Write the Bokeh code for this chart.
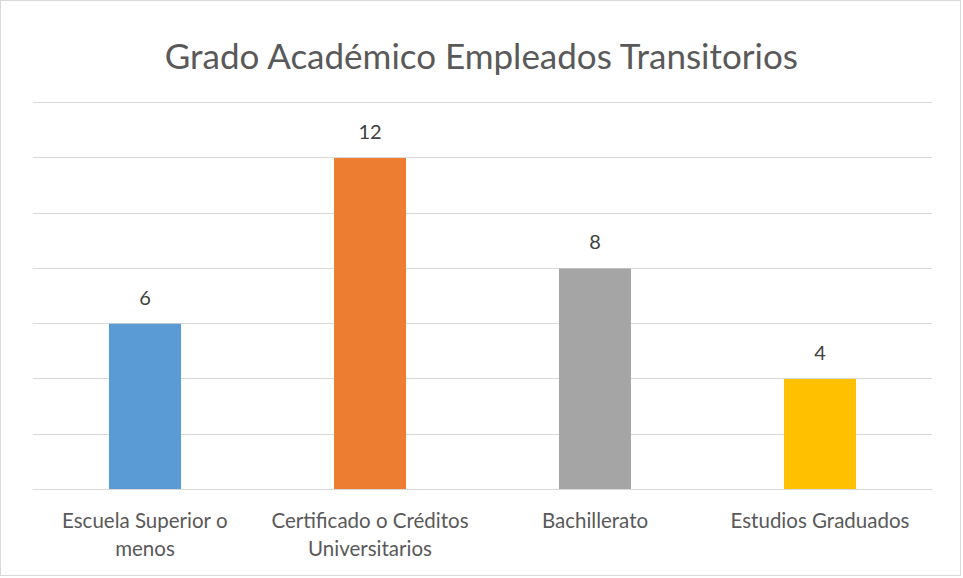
from bokeh.plotting import figure
from bokeh.models import ColumnDataSource, FactorRange, Range1d, LabelSet, SingleIntervalTicker
from bokeh.core.properties import value
from bokeh.embed import file_html
from bokeh.resources import INLINE

title_text = "Grado Académico Empleados Transitorios"
categories = ["Escuela Superior o\nmenos", "Certificado o Créditos\nUniversitarios",
              "Bachillerato", "Estudios Graduados"]
values = [6, 12, 8, 4]
colors = ["#5B9BD5", "#ED7D31", "#A5A5A5", "#FFC000"]
labels = [str(v) for v in values]

src = ColumnDataSource(dict(cat=categories, val=values, color=colors, lab=labels))

p = figure(x_range=FactorRange(*categories, range_padding=0), y_range=Range1d(0, 14.04),
           width=961, height=576, output_backend="svg", toolbar_location=None,
           min_border_left=31, min_border_right=30, min_border_top=100, min_border_bottom=88)

p.vbar(x="cat", top="val", width=0.32, color="color", line_color=None, source=src)

p.add_layout(LabelSet(x="cat", y="val", text="lab", source=src, text_align="center",
                      text_baseline="bottom", y_offset=19, text_font_size="20px",
                      text_color="#404040", text_font=value("Lato")))

p.title.text = title_text
p.title.align = "center"
p.title.text_font = "Lato"
p.title.text_font_size = "35px"
p.title.text_font_style = "normal"
p.title.text_color = "#595959"
p.title.offset = 0
p.title.standoff = 52

p.yaxis.visible = False
p.yaxis.ticker = SingleIntervalTicker(interval=2)
p.ygrid.ticker = SingleIntervalTicker(interval=2)
p.xgrid.grid_line_color = None
p.ygrid.grid_line_color = "#d9d9d9"
p.ygrid.grid_line_width = 1

p.xaxis.axis_line_color = "#d9d9d9"
p.xaxis.major_tick_line_color = None
p.xaxis.minor_tick_line_color = None
p.xaxis.major_label_text_font = "Lato"
p.xaxis.major_label_text_font_size = "20.5px"
p.xaxis.major_label_text_color = "#595959"
p.xaxis.major_label_standoff = 12
p.xaxis.major_label_orientation = "horizontal"

p.outline_line_color = None
p.background_fill_color = "white"
p.border_fill_color = "white"
p.styles = {"border": "1px solid #d9d9d9", "box-sizing": "border-box"}

open("out.html", "w").write(file_html(p, INLINE))
